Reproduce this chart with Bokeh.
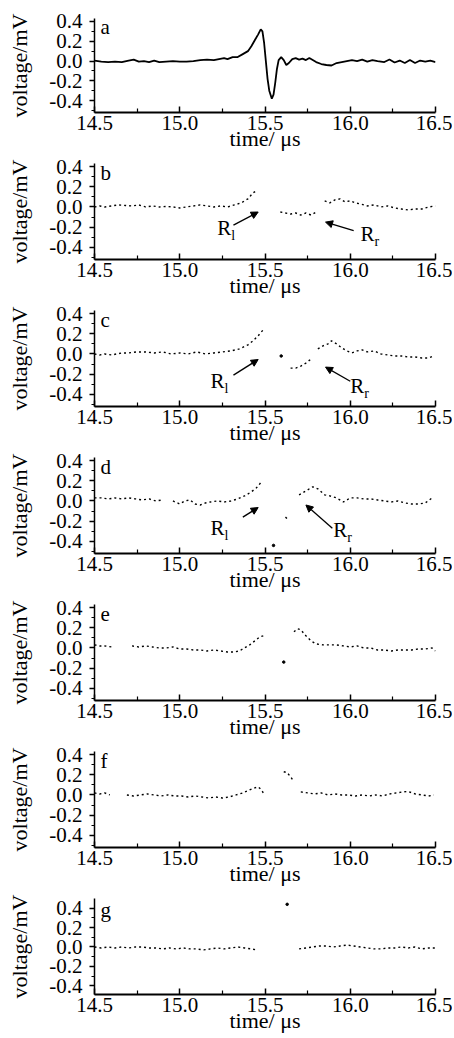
import math
from bokeh.plotting import figure
from bokeh.layouts import column
from bokeh.models import (Range1d, FixedTicker, PrintfTickFormatter, Label,
                          Arrow, NormalHead, ColumnDataSource)
from bokeh.embed import file_html
from bokeh.resources import INLINE

nan = float("nan")

# ---------------- data (time in µs, voltage in mV) ----------------
x_ticks = [14.5, 15.0, 15.5, 16.0, 16.5]
x_minor = [14.75, 15.25, 15.75, 16.25]
y_ticks = [-0.4, -0.2, 0.0, 0.2, 0.4]
y_minor = [-0.5, -0.3, -0.1, 0.1, 0.3]
panel_letters = ["a", "b", "c", "d", "e", "f", "g"]

t_a = [14.50, 14.54, 14.58, 14.62, 14.66, 14.70, 14.73, 14.76, 14.79, 14.82,
       14.85, 14.88, 14.92, 14.96, 15.00, 15.04, 15.08, 15.12, 15.16, 15.20,
       15.23, 15.26, 15.28, 15.31, 15.34, 15.37, 15.40, 15.42, 15.44, 15.46,
       15.475, 15.485, 15.495, 15.505, 15.515, 15.525, 15.54, 15.55, 15.56, 15.57,
       15.58, 15.595, 15.61, 15.625, 15.64, 15.66, 15.68, 15.70, 15.72, 15.74,
       15.76, 15.78, 15.80, 15.83, 15.86, 15.89, 15.92, 15.95, 15.98, 16.01,
       16.04, 16.07, 16.10, 16.13, 16.16, 16.20, 16.23, 16.26, 16.29, 16.32,
       16.35, 16.38, 16.41, 16.44, 16.47, 16.50]
v_a = [0.005, -0.005, -0.01, -0.005, -0.01, 0.005, 0.015, -0.005, 0.0, -0.01,
       0.005, -0.01, -0.005, 0.0, -0.005, -0.005, 0.0, 0.01, 0.015, 0.01,
       0.02, 0.03, 0.02, 0.04, 0.04, 0.07, 0.10, 0.15, 0.21, 0.27,
       0.32, 0.30, 0.18, 0.0, -0.18, -0.30, -0.38, -0.34, -0.22, -0.08,
       0.01, 0.04, 0.01, -0.04, -0.02, 0.02, 0.03, 0.015, 0.025, 0.01,
       0.03, 0.01, -0.01, -0.03, -0.04, -0.045, -0.02, -0.01, 0.0, 0.01,
       0.0, 0.015, -0.005, 0.01, 0.0, -0.01, 0.015, -0.015, 0.005, -0.02,
       0.01, -0.02, 0.005, -0.005, 0.005, -0.01]

t_b = [14.50, 14.53, 14.56, 14.60, 14.64, 14.68, 14.72, 14.76, 14.80, 14.84,
       14.88, 14.92, 14.96, 15.00, 15.04, 15.08, 15.12, 15.16, 15.20, 15.24,
       15.28, 15.32, 15.36, 15.40, 15.43, 15.45, 15.52,
       15.59, 15.62, 15.65, 15.68, 15.71, 15.74, 15.77, 15.80, 15.825,
       15.85, 15.88, 15.91, 15.94, 15.97, 16.00, 16.03, 16.06, 16.10, 16.14,
       16.18, 16.22, 16.26, 16.30, 16.34, 16.38, 16.42, 16.46, 16.50]
v_b = [0.0, 0.01, 0.0, 0.01, 0.02, 0.015, 0.01, 0.02, 0.0, 0.01,
       0.0, 0.005, 0.0, -0.01, 0.0, 0.01, 0.02, 0.01, 0.0, 0.01,
       0.0, 0.02, 0.04, 0.08, 0.14, 0.16, nan,
       -0.05, -0.06, -0.07, -0.06, -0.08, -0.06, -0.08, -0.05, nan,
       0.06, 0.04, 0.07, 0.08, 0.05, 0.06, 0.04, 0.03, 0.01, 0.02,
       0.0, 0.01, -0.01, -0.02, -0.03, -0.02, -0.02, 0.0, 0.01]

t_c = [14.50, 14.53, 14.56, 14.60, 14.63, 14.66, 14.70, 14.75, 14.80, 14.85,
       14.90, 14.95, 15.00, 15.05, 15.10, 15.15, 15.20, 15.25, 15.30, 15.35,
       15.40, 15.43, 15.46, 15.49, 15.54, 15.595, 15.62,
       15.65, 15.68, 15.71, 15.74, 15.77, 15.79,
       15.81, 15.84, 15.87, 15.89, 15.92, 15.95, 15.98, 16.01, 16.04, 16.07,
       16.10, 16.14, 16.18, 16.22, 16.26, 16.30, 16.34, 16.38, 16.42, 16.46, 16.49]
v_c = [0.0, -0.01, 0.0, -0.01, 0.0, 0.01, 0.01, 0.02, 0.02, 0.01,
       0.02, 0.0, 0.01, 0.0, 0.02, 0.0, 0.01, 0.02, 0.03, 0.05,
       0.09, 0.13, 0.18, 0.24, nan, -0.02, nan,
       -0.14, -0.14, -0.12, -0.09, -0.05, nan,
       0.05, 0.08, 0.10, 0.13, 0.10, 0.06, 0.03, 0.01, 0.03, 0.04,
       0.02, 0.03, 0.0, -0.01, -0.02, -0.02, -0.03, -0.03, -0.04, -0.04, -0.02]

t_d = [14.50, 14.54, 14.58, 14.62, 14.66, 14.70, 14.74, 14.78, 14.82, 14.86,
       14.90, 14.93, 14.96, 15.00, 15.03, 15.06, 15.09, 15.12, 15.15, 15.18,
       15.22, 15.26, 15.30, 15.34, 15.38, 15.42, 15.45, 15.48, 15.52,
       15.55, 15.59, 15.62, 15.64, 15.67,
       15.70, 15.74, 15.78, 15.81, 15.85, 15.88, 15.92, 15.96, 16.00, 16.04,
       16.08, 16.12, 16.16, 16.20, 16.24, 16.28, 16.32, 16.36, 16.40, 16.44, 16.48]
v_d = [0.03, 0.03, 0.02, 0.03, 0.02, 0.03, 0.02, 0.01, 0.02, 0.0,
       0.01, nan, 0.0, -0.03, 0.0, 0.01, -0.03, -0.04, -0.02, -0.01,
       0.0, -0.01, 0.0, 0.02, 0.05, 0.09, 0.13, 0.19, nan,
       -0.44, nan, -0.16, -0.19, nan,
       0.06, 0.10, 0.14, 0.12, 0.06, 0.05, 0.03, -0.01, 0.03, 0.03,
       0.02, 0.02, 0.01, 0.0, -0.01, 0.0, -0.02, -0.03, -0.03, -0.02, 0.03]

t_e = [14.50, 14.53, 14.56, 14.60, 14.66, 14.72, 14.76, 14.80, 14.84, 14.88,
       14.92, 14.96, 15.00, 15.04, 15.08, 15.12, 15.16, 15.20, 15.24, 15.28,
       15.32, 15.35, 15.38, 15.41, 15.44, 15.47, 15.49, 15.50, 15.56,
       15.61, 15.64,
       15.67, 15.69, 15.71, 15.74, 15.77, 15.80, 15.84, 15.88, 15.92, 15.96,
       16.00, 16.04, 16.08, 16.12, 16.16, 16.20, 16.24, 16.28, 16.32, 16.36,
       16.40, 16.44, 16.48, 16.50]
v_e = [0.03, 0.02, 0.02, 0.01, nan, 0.02, 0.01, 0.02, 0.01, 0.0,
       0.0, 0.01, -0.01, -0.01, -0.02, -0.02, -0.03, -0.02, -0.03, -0.04,
       -0.04, -0.03, 0.0, 0.03, 0.07, 0.11, 0.12, 0.10, nan,
       -0.14, nan,
       0.16, 0.19, 0.18, 0.12, 0.07, 0.04, 0.03, 0.03, 0.03, 0.02,
       0.01, 0.02, 0.0, 0.0, -0.02, -0.02, -0.03, -0.02, -0.02, -0.02,
       -0.01, -0.01, 0.0, -0.03]

t_f = [14.50, 14.53, 14.56, 14.59, 14.64, 14.69, 14.73, 14.77, 14.81, 14.85,
       14.89, 14.93, 14.97, 15.01, 15.05, 15.09, 15.13, 15.17, 15.21, 15.25,
       15.29, 15.33, 15.37, 15.41, 15.44, 15.46, 15.48, 15.49, 15.55,
       15.61, 15.63, 15.65, 15.67, 15.69,
       15.71, 15.75, 15.79, 15.83, 15.87, 15.91, 15.95, 15.99, 16.03, 16.07,
       16.11, 16.15, 16.19, 16.23, 16.27, 16.31, 16.34, 16.38, 16.42, 16.46, 16.49]
v_f = [0.02, 0.01, 0.02, 0.0, nan, 0.0, -0.01, 0.0, 0.01, 0.0,
       -0.01, 0.0, -0.01, -0.01, -0.02, -0.01, -0.02, -0.03, -0.02, -0.03,
       -0.02, 0.0, 0.02, 0.05, 0.07, 0.08, 0.05, 0.02, nan,
       0.23, 0.22, 0.18, 0.13, nan,
       0.03, 0.02, 0.01, 0.02, 0.0, 0.01, 0.0, 0.0, -0.01, 0.0,
       -0.01, 0.0, -0.01, 0.01, 0.02, 0.03, 0.035, 0.01, 0.0, -0.01, 0.0]

t_g = [14.50, 14.54, 14.58, 14.62, 14.66, 14.70, 14.74, 14.78, 14.82, 14.86,
       14.90, 14.94, 14.98, 15.02, 15.06, 15.10, 15.14, 15.18, 15.22, 15.26,
       15.30, 15.34, 15.38, 15.42, 15.45, 15.55, 15.63, 15.66,
       15.70, 15.74, 15.78, 15.82, 15.86, 15.90, 15.94, 15.98, 16.02, 16.06,
       16.10, 16.14, 16.18, 16.22, 16.26, 16.30, 16.34, 16.38, 16.42, 16.46, 16.50]
v_g = [0.0, -0.01, 0.0, -0.01, 0.0, -0.01, 0.0, 0.0, -0.01, -0.01,
       -0.02, -0.01, -0.02, -0.01, -0.02, -0.02, -0.03, -0.02, -0.01, -0.02,
       -0.01, 0.0, -0.01, -0.02, -0.03, nan, 0.44, nan,
       -0.02, -0.01, 0.0, 0.01, 0.01, 0.0, 0.01, 0.02, 0.01, 0.0,
       -0.01, -0.02, -0.02, -0.01, -0.01, 0.0, -0.01, 0.0, -0.02, -0.01, -0.01]

series_t = [t_a, t_b, t_c, t_d, t_e, t_f, t_g]
series_v = [v_a, v_b, v_c, v_d, v_e, v_f, v_g]

# ---------------- styling / layout ----------------
FONT = "Liberation Serif"
FS = "21px"
FS_AX = "22px"
W = 452
HEIGHTS = [153, 147, 147, 147, 147, 147, 147]
TOPS = [18, 10, 10, 10, 10, 10, 10]

# annotation arrows per panel: (label, label_x, label_y, tail_x, tail_y, head_x, head_y)
notes = {
    1: [("l", 15.22, -0.21, 15.315, -0.18, 15.46, -0.05),
        ("r", 16.06, -0.27, 16.02, -0.235, 15.855, -0.15)],
    2: [("l", 15.18, -0.27, 15.315, -0.21, 15.46, -0.055),
        ("r", 16.00, -0.32, 16.00, -0.27, 15.855, -0.13)],
    3: [("l", 15.18, -0.27, 15.37, -0.16, 15.46, -0.065),
        ("r", 15.90, -0.29, 15.895, -0.27, 15.74, -0.04)],
}


def make_panel(i):
    t = series_t[i]
    v = series_v[i]
    ylo, yhi = (-0.49, 0.50) if i == 6 else (-0.52, 0.43)
    p = figure(width=W, height=HEIGHTS[i], output_backend="svg",
               toolbar_location=None,
               x_range=Range1d(14.5, 16.5), y_range=Range1d(ylo, yhi),
               min_border_left=94, min_border_right=17,
               min_border_top=TOPS[i], min_border_bottom=30)
    p.outline_line_color = None
    p.grid.visible = False

    xa = p.xaxis[0]
    ya = p.yaxis[0]
    xa.ticker = FixedTicker(ticks=x_ticks, minor_ticks=x_minor)
    ya.ticker = FixedTicker(ticks=y_ticks, minor_ticks=y_minor)
    xa.formatter = PrintfTickFormatter(format="%.1f")
    ya.formatter = PrintfTickFormatter(format="%.1f")
    for ax in (xa, ya):
        ax.major_label_text_font = FONT
        ax.major_label_text_font_size = FS
        ax.major_label_text_color = "black"
        ax.axis_label_text_font = FONT
        ax.axis_label_text_font_size = FS_AX
        ax.axis_label_text_font_style = "normal"
        ax.axis_label_text_color = "black"
        ax.axis_line_color = "black"
        ax.major_tick_line_color = "black"
        ax.minor_tick_line_color = "black"
        ax.major_tick_line_width = 1.5
        ax.minor_tick_line_width = 1.2
    xa.axis_line_width = 2
    ya.axis_line_width = 1.5
    xa.major_tick_in = 6
    xa.major_tick_out = 0
    xa.minor_tick_in = 4
    xa.minor_tick_out = 0
    xa.major_label_standoff = 3
    xa.axis_label = "time/ μs"
    xa.axis_label_standoff = -7
    ya.major_tick_in = 0
    ya.major_tick_out = 5
    ya.minor_tick_in = 0
    ya.minor_tick_out = 3
    ya.major_label_standoff = 7
    ya.axis_label = "voltage/mV"
    ya.axis_label_standoff = 14

    src = ColumnDataSource(dict(t=t, v=v))
    if i == 0:
        p.line("t", "v", source=src, line_color="black", line_width=1.8)
    else:
        p.line("t", "v", source=src, line_color="black", line_width=1.4,
               line_dash="2 3")
        iso_t, iso_v = [], []
        for k in range(len(t)):
            if math.isnan(v[k]):
                continue
            prev_nan = k == 0 or math.isnan(v[k - 1])
            next_nan = k == len(t) - 1 or math.isnan(v[k + 1])
            if prev_nan and next_nan:
                iso_t.append(t[k])
                iso_v.append(v[k])
        if iso_t:
            p.scatter(iso_t, iso_v, size=2.5, color="black")

    p.add_layout(Label(x=14.535, y=0.34 if i != 6 else 0.38,
                       text=panel_letters[i], text_font=FONT,
                       text_font_size=FS, text_baseline="middle",
                       text_color="black"))

    for (sub, lx, ly, tx, ty, hx, hy) in notes.get(i, []):
        p.add_layout(Arrow(end=NormalHead(size=7, fill_color="black",
                                          line_color="black"),
                           x_start=tx, y_start=ty, x_end=hx, y_end=hy,
                           line_color="black", line_width=1.3))
        p.add_layout(Label(x=lx, y=ly, text="R", text_font=FONT,
                           text_font_size=FS, text_baseline="middle",
                           text_color="black"))
        p.add_layout(Label(x=lx, y=ly, x_offset=14, y_offset=-7, text=sub,
                           text_font=FONT, text_font_size="14px",
                           text_baseline="middle", text_color="black"))
    return p


plots = [make_panel(i) for i in range(7)]
layout = column(*plots, spacing=0)
open("out.html", "w").write(file_html(layout, INLINE))
